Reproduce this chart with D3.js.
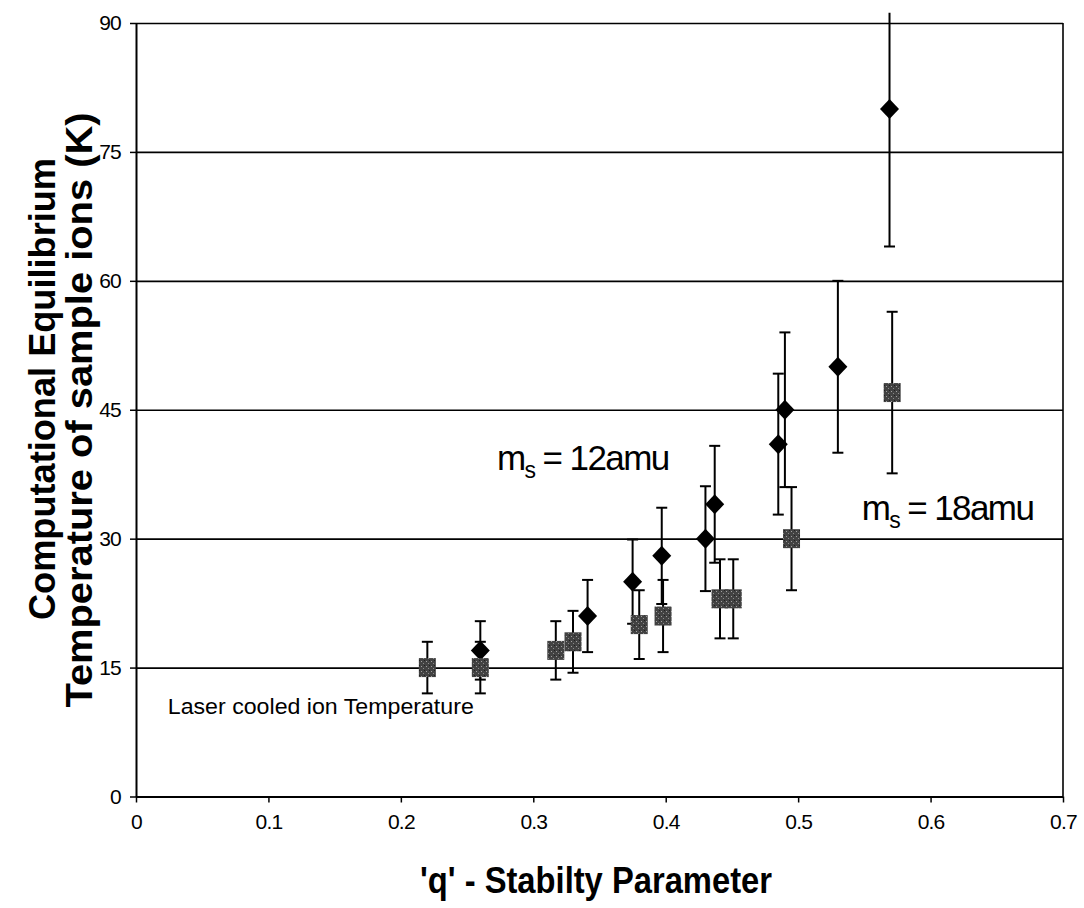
<!DOCTYPE html>
<html>
<head>
<meta charset="utf-8">
<script src="https://cdn.jsdelivr.net/npm/d3@7"></script>
<style>
  body { margin: 0; background: #fff; }
  svg { display: block; font-family: "Liberation Sans", Arial, sans-serif; }
</style>
</head>
<body>
<div id="chart"></div>
<script>
// m_s = 12 amu (black diamonds)
const qLight = [0.26, 0.341, 0.375, 0.397, 0.43, 0.437, 0.485, 0.49, 0.53, 0.569];
const tLight = [17, 21, 25, 28, 30, 34, 41, 45, 50, 80];
const errLight = [3.4, 4.2, 4.9, 5.6, 6.1, 6.8, 8.2, 9, 10, 16];

// m_s = 18 amu (grey squares)
const qHeavy = [0.22, 0.26, 0.317, 0.33, 0.38, 0.398, 0.441, 0.451, 0.495, 0.571];
const tHeavy = [15, 15, 17, 18, 20, 21, 23, 23, 30, 47];
const errHeavy = [3, 3, 3.4, 3.6, 4, 4.2, 4.6, 4.6, 6, 9.4];

const xTicks = [0, 0.1, 0.2, 0.3, 0.4, 0.5, 0.6, 0.7];
const xTickLabels = ['0', '0.1', '0.2', '0.3', '0.4', '0.5', '0.6', '0.7'];
const yTicks = [0, 15, 30, 45, 60, 75, 90];

const width = 1084;
const height = 908;
const margin = { top: 23, right: 21, bottom: 111.5, left: 136 };

const svg = d3.select('#chart')
  .append('svg')
  .attr('width', width)
  .attr('height', height);

const x = d3.scaleLinear()
  .domain([0, 0.7])
  .range([margin.left, width - margin.right]);

const y = d3.scaleLinear()
  .domain([0, 90])
  .range([height - margin.bottom, margin.top]);

// texture for the grey squares
const defs = svg.append('defs');
const pat = defs.append('pattern')
  .attr('id', 'speckle')
  .attr('patternUnits', 'userSpaceOnUse')
  .attr('width', 5)
  .attr('height', 5);
pat.append('rect').attr('width', 5).attr('height', 5).attr('fill', '#424242');
pat.append('rect').attr('x', 1).attr('y', 1).attr('width', 1).attr('height', 1).attr('fill', '#a0a0a0');
pat.append('rect').attr('x', 3).attr('y', 3).attr('width', 1).attr('height', 1).attr('fill', '#8a8a8a');
pat.append('rect').attr('x', 4).attr('y', 0).attr('width', 1).attr('height', 1).attr('fill', '#202020');

defs.append('clipPath')
  .attr('id', 'plot-clip')
  .append('rect')
  .attr('x', x(0))
  .attr('y', y(91.2))
  .attr('width', x(0.7) - x(0))
  .attr('height', y(0) - y(91.2));

// horizontal gridlines
const grid = svg.append('g')
  .attr('transform', `translate(${x(0)},0)`)
  .call(d3.axisLeft(y).tickValues(yTicks.slice(1)).tickFormat('').tickSize(-(x(0.7) - x(0))));
grid.select('.domain').remove();
grid.selectAll('line').attr('stroke', '#000').attr('stroke-width', 1.6);

// right border
svg.append('line')
  .attr('x1', x(0.7)).attr('x2', x(0.7))
  .attr('y1', y(0)).attr('y2', y(90))
  .attr('stroke', '#000').attr('stroke-width', 1.6);

// axes
const yAxis = svg.append('g')
  .attr('transform', `translate(${x(0)},0)`)
  .call(d3.axisLeft(y).tickValues(yTicks).tickSize(6).tickSizeOuter(0).tickPadding(9));

const xAxis = svg.append('g')
  .attr('transform', `translate(0,${y(0)})`)
  .call(d3.axisBottom(x).tickValues(xTicks).tickFormat((d, i) => xTickLabels[i])
    .tickSize(6).tickSizeOuter(0).tickPadding(12));

[xAxis, yAxis].forEach((g) => {
  g.select('.domain').attr('stroke', '#000').attr('stroke-width', 2);
  g.selectAll('.tick line').attr('stroke', '#000').attr('stroke-width', 1.5);
  g.selectAll('.tick text')
    .attr('fill', '#000')
    .style('font-size', '21px')
    .style('letter-spacing', '-0.8px');
});

// series
const lightData = qLight.map((q, i) => ({ q, t: tLight[i], e: errLight[i] }));
const heavyData = qHeavy.map((q, i) => ({ q, t: tHeavy[i], e: errHeavy[i] }));

const plot = svg.append('g').attr('clip-path', 'url(#plot-clip)');

function drawErrors(g, data) {
  const bars = g.selectAll('g.err')
    .data(data)
    .join('g')
    .attr('class', 'err')
    .attr('stroke', '#000')
    .attr('stroke-width', 2);
  bars.append('line')
    .attr('x1', (d) => x(d.q)).attr('x2', (d) => x(d.q))
    .attr('y1', (d) => y(d.t - d.e)).attr('y2', (d) => y(d.t + d.e));
  [-1, 1].forEach((s) => {
    bars.append('line')
      .attr('x1', (d) => x(d.q) - 5.5).attr('x2', (d) => x(d.q) + 5.5)
      .attr('y1', (d) => y(d.t + s * d.e)).attr('y2', (d) => y(d.t + s * d.e));
  });
}

const lightG = plot.append('g');
drawErrors(lightG, lightData);
lightG.selectAll('path.diamond')
  .data(lightData)
  .join('path')
  .attr('class', 'diamond')
  .attr('d', 'M0,-10L9.5,0L0,10L-9.5,0Z')
  .attr('transform', (d) => `translate(${x(d.q)},${y(d.t)})`)
  .attr('fill', '#000');

const heavyG = plot.append('g');
drawErrors(heavyG, heavyData);
heavyG.selectAll('rect.square')
  .data(heavyData)
  .join('rect')
  .attr('class', 'square')
  .attr('x', (d) => x(d.q) - 8.5)
  .attr('y', (d) => y(d.t) - 9.5)
  .attr('width', 17)
  .attr('height', 19)
  .attr('fill', 'url(#speckle)');

// annotations
function massLabel(xPos, yPos, mass) {
  const t = svg.append('text')
    .attr('x', xPos)
    .attr('y', yPos)
    .style('font-size', '35px')
    .style('letter-spacing', '-1.6px')
    .attr('fill', '#000');
  t.append('tspan').text('m');
  t.append('tspan').attr('dy', 8).style('font-size', '23px').text('s');
  t.append('tspan').attr('dy', -8).text(' = ' + mass + 'amu');
}
massLabel(x(0.2726), y(38), 12);
massLabel(x(0.548), y(32.2), 18);

svg.append('text')
  .attr('x', x(0.024))
  .attr('y', y(9.6))
  .attr('textLength', 306)
  .attr('lengthAdjust', 'spacingAndGlyphs')
  .style('font-size', '22px')
  .attr('fill', '#000')
  .text('Laser cooled ion Temperature');

// axis titles
svg.append('text')
  .attr('x', 596)
  .attr('y', 893)
  .attr('text-anchor', 'middle')
  .attr('textLength', 352)
  .attr('lengthAdjust', 'spacingAndGlyphs')
  .style('font-size', '36px')
  .style('font-weight', 'bold')
  .attr('fill', '#000')
  .text("'q' -  Stabilty Parameter");

const yTitle = [
  { text: 'Computational Equilibrium', cx: 55, cy: 389, len: 462 },
  { text: 'Temperature of sample ions (K)', cx: 92, cy: 410, len: 595 },
];
svg.selectAll('text.ytitle')
  .data(yTitle)
  .join('text')
  .attr('class', 'ytitle')
  .attr('transform', (d) => `translate(${d.cx},${d.cy}) rotate(-90)`)
  .attr('text-anchor', 'middle')
  .attr('textLength', (d) => d.len)
  .attr('lengthAdjust', 'spacingAndGlyphs')
  .style('font-size', '37px')
  .style('font-weight', 'bold')
  .attr('fill', '#000')
  .text((d) => d.text);
</script>
</body>
</html>
